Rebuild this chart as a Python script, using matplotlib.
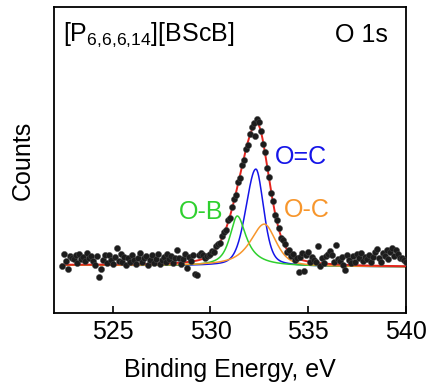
import numpy as np
import matplotlib
matplotlib.use("Agg")
import matplotlib.pyplot as plt

plt.rcParams['font.family'] = ['Liberation Sans', 'DejaVu Sans']
plt.rcParams['mathtext.default'] = 'regular'

# measured O 1s spectrum, 0.1 eV steps from 522.4 eV (arbitrary counts)
be_start = 522.4
be_step = 0.1
counts = [
    15.4, 19.1, 17.0, 14.2, 18.6, 17.9,
    17.6, 18.9, 16.4, 19.3, 17.5, 18.2, 16.9, 19.6, 17.8, 18.5,
    17.1, 15.6, 18.7, 11.8, 14.4, 17.4, 19.0, 16.3, 18.9, 17.3,
    16.1, 18.4, 21.1, 17.0, 19.1, 16.5, 18.2, 15.7, 17.8, 16.6,
    19.0, 17.2, 15.9, 18.1, 19.5, 16.7, 17.8, 18.7, 15.6, 17.3,
    18.8, 16.4, 17.7, 19.2, 16.0, 17.4, 18.3, 16.8, 19.4, 17.5,
    18.5, 16.3, 17.9, 20.7, 18.1, 15.9, 17.6, 19.1, 14.7, 18.2,
    17.1, 18.9, 12.6, 12.4, 18.8, 19.6, 18.8, 18.1, 18.7, 18.9,
    19.4, 20.3, 19.9, 21.8, 22.5, 22.8, 25.1, 26.4, 27.2, 30.3,
    31.1, 34.6, 37.2, 38.5, 42.6, 44.1, 48.3, 49.7, 53.6, 54.8,
    58.4, 60.6, 62.0, 57.7, 63.2, 62.3, 59.4, 55.0, 52.5, 47.2,
    44.3, 39.0, 36.6, 32.0, 30.2, 27.6, 24.3, 23.7, 22.4, 20.0,
    20.4, 18.6, 19.3, 17.4, 17.9, 13.4, 18.2, 19.5, 13.8, 18.8,
    19.9, 16.8, 18.4, 17.2, 16.5, 22.0, 15.2, 17.9, 16.4, 18.6,
    19.4, 20.1, 18.8, 16.5, 22.1, 17.6, 16.9, 18.2, 15.8, 14.0,
    18.9, 17.3, 16.2, 18.5, 16.7, 19.4, 17.8, 19.7, 16.9, 18.4,
    17.5, 19.0, 16.6, 18.3, 19.8, 21.0, 17.9, 16.8, 19.6, 18.7,
    20.4, 17.6, 19.9, 21.1, 18.5, 20.6, 19.2, 17.8, 18.1, 17.2,
    16.7,
]

# linear background (left end, right end)
bg_left = 15.6
bg_right = 15.06

# fitted peaks: name, centre (eV), height, left/right HWHM, left/right Lorentz fraction
peak_names = ['O=C', 'O-B', 'O-C']
peak_centres = [532.32, 531.37, 532.75]
peak_heights = [31.6, 16.3, 13.7]
peak_hwhm_left = [0.60, 0.45, 0.85]
peak_hwhm_right = [0.47, 0.55, 0.70]
peak_eta_left = [0.3, 0.8, 0.8]
peak_eta_right = [0.4, 1.0, 0.5]
peak_colors = ['#1515e8', '#2fd02f', '#f7962c']

# envelope of the fit
env_centre = 532.38
env_height = 46.4
env_hwhm = (1.1, 0.75)
env_eta = (0.3, 0.45)


def pseudo_voigt(x, c, a, hl, hr, el, er):
    d = x - c
    h = np.where(d < 0, hl, hr)
    eta = np.where(d < 0, el, er)
    u2 = (d / h) ** 2
    return a * (eta / (1 + u2) + (1 - eta) * np.exp(-np.log(2) * u2))


energy = be_start + be_step * np.arange(len(counts))
xf = np.linspace(522.4, 540, 900)
background = bg_left + (bg_right - bg_left) * (xf - 522) / 18

fig = plt.figure(figsize=(4.27, 3.87), dpi=100)
ax = fig.add_axes([0.1265, 0.191, 0.8245, 0.791])

for i in range(len(peak_names)):
    comp = pseudo_voigt(xf, peak_centres[i], peak_heights[i], peak_hwhm_left[i],
                        peak_hwhm_right[i], peak_eta_left[i], peak_eta_right[i])
    ax.plot(xf, background + comp, color=peak_colors[i], lw=1.1, zorder=2)

envelope = pseudo_voigt(xf, env_centre, env_height, env_hwhm[0], env_hwhm[1],
                        env_eta[0], env_eta[1])
ax.plot(xf, background + envelope, color='#e3241d', lw=1.4, zorder=3)

ax.scatter(energy, counts, s=20, color='#1c1c1c', edgecolors='#4a4a4a',
           linewidths=0.3, zorder=4)

fs = 18
ax.text(0.026, 0.908, '[P$_{6{,}6{,}6{,}14}$][BScB]', transform=ax.transAxes,
        fontsize=fs, va='center', ha='left')
ax.text(0.949, 0.908, 'O 1s', transform=ax.transAxes,
        fontsize=fs, va='center', ha='right')
ax.text(533.28, 50.8, 'O=C', color=peak_colors[0], fontsize=fs, va='center', ha='left')
ax.text(528.36, 32.9, 'O-B', color=peak_colors[1], fontsize=fs, va='center', ha='left')
ax.text(533.74, 33.5, 'O-C', color=peak_colors[2], fontsize=fs, va='center', ha='left')

ax.set_xlim(522, 540)
ax.set_ylim(0, 99.7)
ax.set_xticks([525, 530, 535, 540])
ax.set_yticks([])
ax.tick_params(axis='x', direction='in', length=5, width=1.2, labelsize=fs, pad=5)
for sp in ax.spines.values():
    sp.set_linewidth(1.3)
ax.set_xlabel('Binding Energy, eV', fontsize=fs, labelpad=10)
ax.set_ylabel('Counts', fontsize=fs, labelpad=14)

fig.savefig('out.png', dpi=100)
